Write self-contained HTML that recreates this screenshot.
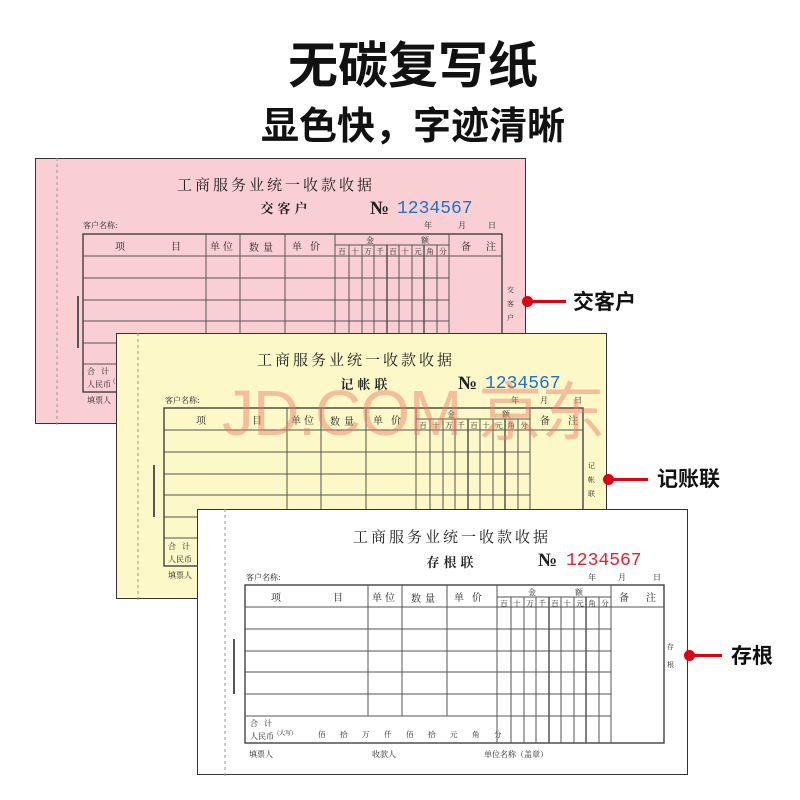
<!DOCTYPE html>
<html><head><meta charset="utf-8">
<style>
body{margin:0;width:800px;height:800px;background:#fff;position:relative;overflow:hidden;font-family:"Liberation Sans","Noto Sans CJK SC",sans-serif}
.h1{position:absolute;left:0;width:826px;top:36px;text-align:center;font-size:50px;font-weight:bold;color:#111;line-height:60px}
.h2{position:absolute;left:0;width:826px;top:104px;text-align:center;font-size:38px;font-weight:bold;color:#111;line-height:46px}
.f{position:absolute;width:491px;height:266px;border:1px solid #333;box-sizing:border-box}
.f svg{position:absolute;left:-1px;top:-1px}
.lab{position:absolute;font-size:21px;font-weight:bold;color:#111;font-family:"Noto Sans CJK SC",sans-serif}
.dot{position:absolute;width:11px;height:11px;border-radius:50%;background:#e00012}
.ln{position:absolute;height:3px;background:#e00012}
.wm{position:absolute;left:222px;top:362px;font-size:64px;color:rgba(232,120,100,.45);font-family:"Liberation Sans","Noto Sans CJK SC",sans-serif;letter-spacing:-1px}
</style></head><body>
<div class="h1">无碳复写纸</div>
<div class="h2">显色快，字迹清晰</div>

<div class="f" style="left:35px;top:158px;background:#f9cfd3">
<svg width="492" height="267" viewBox="0 0 492 267" font-family="Noto Serif CJK SC,serif" fill="#222">
<line x1="22" y1="0" x2="22" y2="267" stroke="#999" stroke-dasharray="3,3"/>
<g transform="translate(-4,-2)">
<g stroke="#555" stroke-width="1" fill="none">
<rect x="52" y="78" width="419" height="158" stroke="#333" stroke-width="1.3"/>
<line x1="52" y1="100" x2="471" y2="100"/>
<line x1="52" y1="122" x2="418" y2="122"/><line x1="52" y1="144" x2="418" y2="144"/><line x1="52" y1="165" x2="418" y2="165"/><line x1="52" y1="187" x2="418" y2="187"/><line x1="52" y1="208" x2="418" y2="208"/>
<line x1="175" y1="78" x2="175" y2="208"/><line x1="209" y1="78" x2="209" y2="208"/><line x1="254" y1="78" x2="254" y2="208"/>
<line x1="304" y1="78" x2="304" y2="236"/><line x1="418" y1="78" x2="418" y2="236"/>
<line x1="304" y1="89" x2="418" y2="89"/>
<line x1="318" y1="89" x2="318" y2="236"/><line x1="331" y1="89" x2="331" y2="236"/><line x1="343" y1="89" x2="343" y2="236"/><line x1="356" y1="89" x2="356" y2="236" stroke-width="1.5"/><line x1="368" y1="89" x2="368" y2="236"/><line x1="381" y1="89" x2="381" y2="236"/><line x1="393" y1="89" x2="393" y2="236" stroke-width="1.5"/><line x1="406" y1="89" x2="406" y2="236"/>
</g>
<text x="245" y="34" font-size="15" text-anchor="middle" letter-spacing="3">工商服务业统一收款收据</text>
<text x="255" y="57" font-size="13" font-weight="bold" text-anchor="middle" letter-spacing="4" fill="#222">交客户</text>
<text x="339" y="58" font-size="19" font-weight="bold" font-family="Liberation Serif,serif" fill="#222">№</text>
<text x="366" y="57" font-size="18" font-family="Liberation Mono,monospace" fill="#1e73c8">1234567</text>
<text x="52" y="72" font-size="8">客户名称:</text>
<text x="393" y="72" font-size="8">年</text><text x="427" y="72" font-size="8">月</text><text x="457" y="72" font-size="8">日</text>
<text x="84" y="94" font-size="10">项</text><text x="140" y="94" font-size="10">目</text>
<text x="192" y="94" font-size="10" text-anchor="middle" letter-spacing="3">单位</text>
<text x="232" y="95" font-size="10" text-anchor="middle" letter-spacing="4">数量</text>
<text x="279" y="94" font-size="10" text-anchor="middle" letter-spacing="8">单价</text>
<text x="335" y="87" font-size="8">金</text><text x="390" y="87" font-size="8">额</text>
<text x="311" y="98" font-size="7.5" text-anchor="middle">百</text><text x="324" y="98" font-size="7.5" text-anchor="middle">十</text><text x="337" y="98" font-size="7.5" text-anchor="middle">万</text><text x="349" y="98" font-size="7.5" text-anchor="middle">千</text><text x="362" y="98" font-size="7.5" text-anchor="middle">百</text><text x="374" y="98" font-size="7.5" text-anchor="middle">十</text><text x="387" y="98" font-size="7.5" text-anchor="middle">元</text><text x="399" y="98" font-size="7.5" text-anchor="middle">角</text><text x="412" y="98" font-size="7.5" text-anchor="middle">分</text>
<text x="430" y="94" font-size="10">备</text><text x="455" y="94" font-size="10">注</text>
<text x="476" y="136" font-size="7">交</text><text x="476" y="150" font-size="7">客</text><text x="476" y="164" font-size="7">户</text>
<text x="56" y="218" font-size="8" letter-spacing="6">合计</text>
<text x="56" y="231" font-size="8">人民币</text><text x="82" y="227" font-size="6">(大写)</text>
<text x="122" y="229" font-size="7.5" letter-spacing="14">佰拾万仟佰拾元角分</text>
<text x="56" y="247" font-size="8">填票人</text><text x="179" y="247" font-size="8">收款人</text><text x="291" y="247" font-size="8">单位名称（盖章）</text>
<rect x="46" y="140" width="2" height="52" fill="#555"/>
</g>
</svg></div>

<div class="f" style="left:116px;top:333px;background:#fdf8c8">
<svg width="492" height="267" viewBox="0 0 492 267" font-family="Noto Serif CJK SC,serif" fill="#222">
<g stroke="#555" stroke-width="1" fill="none">
<line x1="22" y1="0" x2="22" y2="267" stroke="#999" stroke-dasharray="3,3"/>
<rect x="48" y="75" width="419" height="158" stroke="#333" stroke-width="1.3"/>
<line x1="48" y1="97" x2="467" y2="97"/>
<line x1="48" y1="119" x2="414" y2="119"/><line x1="48" y1="141" x2="414" y2="141"/><line x1="48" y1="162" x2="414" y2="162"/><line x1="48" y1="184" x2="414" y2="184"/><line x1="48" y1="205" x2="414" y2="205"/>
<line x1="171" y1="75" x2="171" y2="205"/><line x1="205" y1="75" x2="205" y2="205"/><line x1="250" y1="75" x2="250" y2="205"/>
<line x1="300" y1="75" x2="300" y2="233"/><line x1="414" y1="75" x2="414" y2="233"/>
<line x1="300" y1="86" x2="414" y2="86"/>
<line x1="314" y1="86" x2="314" y2="233"/><line x1="327" y1="86" x2="327" y2="233"/><line x1="339" y1="86" x2="339" y2="233"/><line x1="352" y1="86" x2="352" y2="233" stroke-width="1.5"/><line x1="364" y1="86" x2="364" y2="233"/><line x1="377" y1="86" x2="377" y2="233"/><line x1="389" y1="86" x2="389" y2="233" stroke-width="1.5"/><line x1="402" y1="86" x2="402" y2="233"/>
</g>
<text x="240" y="32" font-size="15" text-anchor="middle" letter-spacing="3">工商服务业统一收款收据</text>
<text x="250" y="56" font-size="13" font-weight="bold" text-anchor="middle" letter-spacing="4" fill="#222">记帐联</text>
<text x="342" y="56" font-size="19" font-weight="bold" font-family="Liberation Serif,serif" fill="#222">№</text>
<text x="369" y="55" font-size="18" font-family="Liberation Mono,monospace" fill="#1e73c8">1234567</text>
<text x="49" y="70" font-size="8">客户名称:</text>
<text x="395" y="70" font-size="8">年</text><text x="424" y="70" font-size="8">月</text><text x="458" y="70" font-size="8">日</text>
<text x="80" y="91" font-size="10">项</text><text x="136" y="91" font-size="10">目</text>
<text x="188" y="91" font-size="10" text-anchor="middle" letter-spacing="3">单位</text>
<text x="228" y="92" font-size="10" text-anchor="middle" letter-spacing="4">数量</text>
<text x="275" y="91" font-size="10" text-anchor="middle" letter-spacing="8">单价</text>
<text x="331" y="84" font-size="8">金</text><text x="386" y="84" font-size="8">额</text>
<text x="307" y="95" font-size="7.5" text-anchor="middle">百</text><text x="320" y="95" font-size="7.5" text-anchor="middle">十</text><text x="333" y="95" font-size="7.5" text-anchor="middle">万</text><text x="345" y="95" font-size="7.5" text-anchor="middle">千</text><text x="358" y="95" font-size="7.5" text-anchor="middle">百</text><text x="370" y="95" font-size="7.5" text-anchor="middle">十</text><text x="383" y="95" font-size="7.5" text-anchor="middle">元</text><text x="395" y="95" font-size="7.5" text-anchor="middle">角</text><text x="408" y="95" font-size="7.5" text-anchor="middle">分</text>
<text x="424" y="91" font-size="10">备</text><text x="452" y="91" font-size="10">注</text>
<text x="472" y="135" font-size="7">记</text><text x="472" y="149" font-size="7">帐</text><text x="472" y="163" font-size="7">联</text>
<text x="52" y="216" font-size="8" letter-spacing="6">合计</text>
<text x="52" y="229" font-size="8">人民币</text>
<text x="52" y="245" font-size="8">填票人</text>
<rect x="37" y="132" width="2" height="52" fill="#555"/>
</svg></div>

<div class="wm">JD.COM 京东</div>

<div class="f" style="left:197px;top:509px;background:#fff">
<svg width="492" height="267" viewBox="0 0 492 267" font-family="Noto Serif CJK SC,serif" fill="#222">
<g stroke="#555" stroke-width="1" fill="none">
<line x1="28" y1="0" x2="28" y2="267" stroke="#999" stroke-dasharray="3,3"/>
<rect x="48" y="76" width="419" height="158" stroke="#333" stroke-width="1.3"/>
<line x1="48" y1="98" x2="467" y2="98"/>
<line x1="48" y1="120" x2="414" y2="120"/><line x1="48" y1="142" x2="414" y2="142"/><line x1="48" y1="163" x2="414" y2="163"/><line x1="48" y1="185" x2="414" y2="185"/><line x1="48" y1="207" x2="414" y2="207"/>
<line x1="171" y1="76" x2="171" y2="207"/><line x1="205" y1="76" x2="205" y2="207"/><line x1="250" y1="76" x2="250" y2="207"/>
<line x1="300" y1="76" x2="300" y2="234"/><line x1="414" y1="76" x2="414" y2="234"/>
<line x1="300" y1="88" x2="414" y2="88"/>
<line x1="314" y1="88" x2="314" y2="234"/><line x1="327" y1="88" x2="327" y2="234"/><line x1="339" y1="88" x2="339" y2="234"/><line x1="352" y1="88" x2="352" y2="234" stroke-width="1.5"/><line x1="364" y1="88" x2="364" y2="234"/><line x1="377" y1="88" x2="377" y2="234"/><line x1="389" y1="88" x2="389" y2="234" stroke-width="1.5"/><line x1="402" y1="88" x2="402" y2="234"/>
</g>
<text x="255" y="33" font-size="15" text-anchor="middle" letter-spacing="3">工商服务业统一收款收据</text>
<text x="255" y="58" font-size="13" font-weight="bold" text-anchor="middle" letter-spacing="4" fill="#222">存根联</text>
<text x="341" y="57" font-size="19" font-weight="bold" font-family="Liberation Serif,serif" fill="#222">№</text>
<text x="369" y="56" font-size="18" font-family="Liberation Mono,monospace" fill="#e8202c">1234567</text>
<text x="49" y="71" font-size="8">客户名称:</text>
<text x="391" y="71" font-size="8">年</text><text x="421" y="71" font-size="8">月</text><text x="456" y="71" font-size="8">日</text>
<text x="74" y="92" font-size="10">项</text><text x="136" y="92" font-size="10">目</text>
<text x="188" y="92" font-size="10" text-anchor="middle" letter-spacing="3">单位</text>
<text x="228" y="93" font-size="10" text-anchor="middle" letter-spacing="4">数量</text>
<text x="275" y="92" font-size="10" text-anchor="middle" letter-spacing="8">单价</text>
<text x="331" y="86" font-size="8">金</text><text x="378" y="86" font-size="8">额</text>
<text x="307" y="97" font-size="7.5" text-anchor="middle">百</text><text x="320" y="97" font-size="7.5" text-anchor="middle">十</text><text x="333" y="97" font-size="7.5" text-anchor="middle">万</text><text x="345" y="97" font-size="7.5" text-anchor="middle">千</text><text x="358" y="97" font-size="7.5" text-anchor="middle">百</text><text x="370" y="97" font-size="7.5" text-anchor="middle">十</text><text x="383" y="97" font-size="7.5" text-anchor="middle">元</text><text x="395" y="97" font-size="7.5" text-anchor="middle">角</text><text x="408" y="97" font-size="7.5" text-anchor="middle">分</text>
<text x="422" y="92" font-size="10">备</text><text x="449" y="92" font-size="10">注</text>
<text x="470" y="140" font-size="7">存</text><text x="470" y="158" font-size="7">根</text>
<text x="53" y="217" font-size="8" letter-spacing="6">合计</text>
<text x="53" y="230" font-size="8">人民币</text><text x="80" y="226" font-size="6">(大写)</text>
<text x="121" y="228" font-size="7.5" letter-spacing="14.5">佰拾万仟佰拾元角分</text>
<text x="52" y="248" font-size="8">填票人</text><text x="175" y="248" font-size="8">收款人</text><text x="287" y="248" font-size="8">单位名称（盖章）</text>
<rect x="36" y="130" width="2" height="55" fill="#555"/>
</svg></div>

<div class="dot" style="left:522px;top:296px"></div><div class="ln" style="left:527px;top:300px;width:39px"></div>
<div class="lab" style="left:573px;top:286px">交客户</div>
<div class="dot" style="left:603px;top:474px"></div><div class="ln" style="left:608px;top:478px;width:40px"></div>
<div class="lab" style="left:657px;top:463px">记账联</div>
<div class="dot" style="left:684px;top:650px"></div><div class="ln" style="left:689px;top:654px;width:33px"></div>
<div class="lab" style="left:731px;top:640px">存根</div>
</body></html>
